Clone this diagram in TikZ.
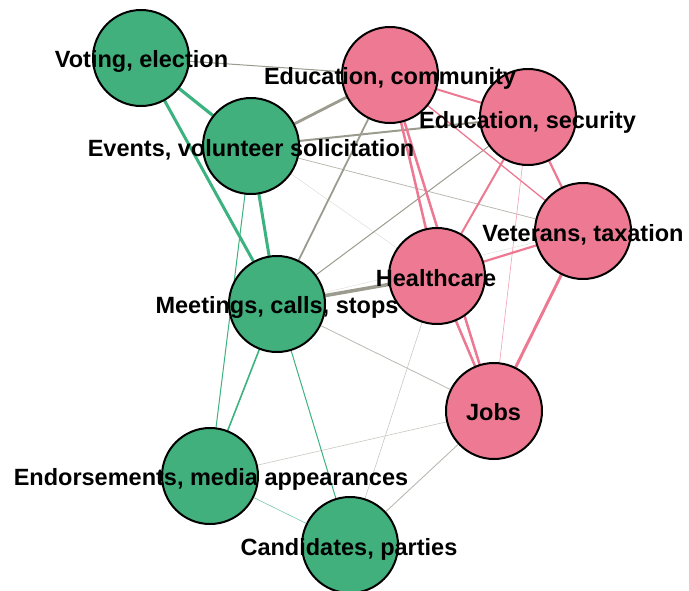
\documentclass[tikz,border=0pt]{standalone}
\usepackage{fontspec}
\setmainfont{Liberation Sans}
\definecolor{gfill}{RGB}{65,176,124}
\definecolor{pfill}{RGB}{237,122,146}
\definecolor{gedge}{RGB}{60,178,128}
\definecolor{pedge}{RGB}{236,120,145}
\definecolor{xedge}{RGB}{155,155,143}
\tikzset{
  gnode/.style={circle,draw=black,line width=2pt,fill=gfill,minimum size=96pt,inner sep=0pt},
  pnode/.style={circle,draw=black,line width=2pt,fill=pfill,minimum size=96pt,inner sep=0pt},
  lbl/.style={anchor=base,inner sep=0pt,font=\fontsize{23.5}{26}\selectfont\bfseries},
  ge/.style={draw=gedge,line width=#1pt},
  pe/.style={draw=pedge,line width=#1pt},
  xe/.style={draw=xedge,line width=#1pt},
  xl/.style={draw=xedge!70,line width=#1pt},
}
\begin{document}
\begin{tikzpicture}[x=1pt,y=-1pt]
\useasboundingbox (0,0) rectangle (689,590);
\clip (0,0) rectangle (689,590);
% node positions
\coordinate (vot) at (141,58);
\coordinate (evt) at (251,146);
\coordinate (edc) at (390,75);
\coordinate (eds) at (528,117);
\coordinate (vet) at (583,231);
\coordinate (hea) at (437,276);
\coordinate (mee) at (277,304);
\coordinate (job) at (494,411);
\coordinate (end) at (210,476);
\coordinate (can) at (350,545);
% gray edges
\draw[xe=1.0] (vot) -- (edc);
\draw[xe=2.8] (evt) -- (edc);
\draw[xe=2.0] (evt) -- (eds);
\draw[xl=0.8] (evt) -- (vet);
\draw[draw=xedge!40,line width=0.4pt] (evt) -- (hea);
\draw[xe=1.8] (mee) -- (edc);
\draw[xe=1.0] (mee) -- (eds);
\draw[xe=3.5] (mee) -- (hea);
\draw[xl=0.8] (mee) -- (job);
\draw[draw=xedge!35,line width=0.4pt] (mee) -- (vet);
\draw[draw=xedge!55,line width=0.6pt] (end) -- (job);
\draw[xl=0.9] (can) -- (job);
\draw[draw=xedge!55,line width=0.6pt] (can) -- (hea);
% green edges
\draw[ge=3.2] (vot) -- (evt);
\draw[ge=3.0] (vot) -- (mee);
\draw[ge=3.0] (evt) -- (mee);
\draw[ge=1.0] (evt) -- (end);
\draw[ge=1.6] (mee) -- (end);
\draw[ge=1.0] (mee) -- (can);
\draw[draw=gedge!70,line width=0.6pt] (end) -- (can);
% pink edges
\draw[pe=2.0] (edc) -- (eds);
\draw[pe=1.3] (edc) -- (vet);
\draw[pe=2.5] (edc) -- (hea);
\draw[pe=2.5] (edc) -- (job);
\draw[pe=2.5] (hea) -- (job);
\draw[pe=2.0] (eds) -- (hea);
\draw[pe=2.2] (eds) -- (vet);
\draw[draw=pedge!70,line width=0.6pt] (eds) -- (job);
\draw[pe=2.2] (vet) -- (hea);
\draw[pe=3.0] (vet) -- (job);
% circles
\node[gnode] (nvot) at (vot) {};
\node[gnode] (nevt) at (evt) {};
\node[pnode] (nedc) at (edc) {};
\node[pnode] (neds) at (eds) {};
\node[pnode] (nvet) at (vet) {};
\node[pnode] (nhea) at (hea) {};
\node[gnode] (nmee) at (mee) {};
\node[pnode] (njob) at (job) {};
\node[gnode] (nend) at (end) {};
\node[gnode] (ncan) at (can) {};
% labels
\node[lbl] (lvot) at (141.5,67) {Voting, election};
\node[lbl] (levt) at (251,156.5) {Events, volunteer solicitation};
\node[lbl] (ledc) at (390,84.5) {Education, community};
\node[lbl] (leds) at (527.5,128) {Education, security};
\node[lbl] (lvet) at (583,241.5) {Veterans, taxation};
\node[lbl] (lhea) at (436,286.5) {Healthcare};
\node[lbl] (lmee) at (277,313.5) {Meetings, calls, stops};
\node[lbl] (ljob) at (493.5,420.5) {Jobs};
\node[lbl] (lend) at (211,485.5) {Endorsements, media appearances};
\node[lbl] (lcan) at (349,555.5) {Candidates, parties};
\end{tikzpicture}
\end{document}
